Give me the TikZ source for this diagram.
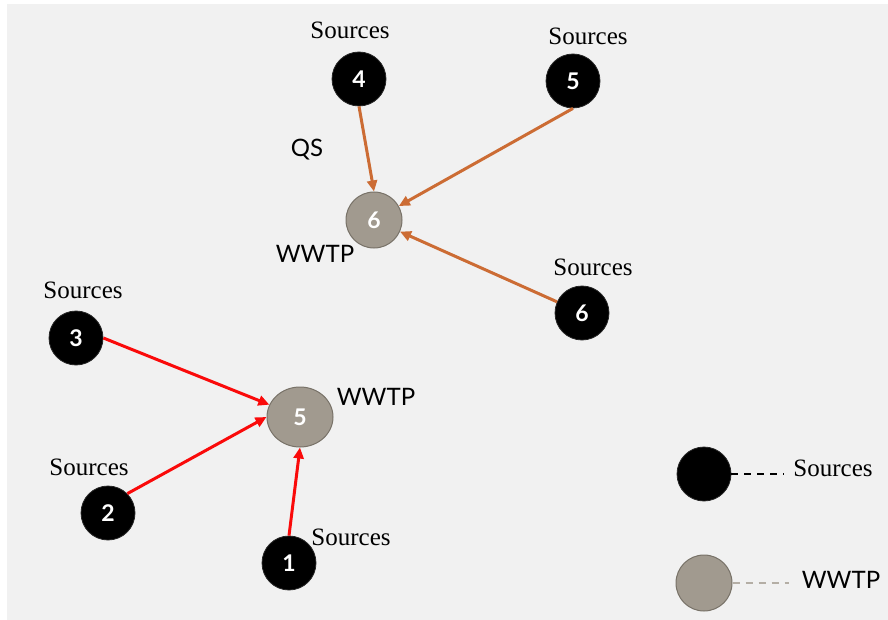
\documentclass[tikz,border=0pt]{standalone}
\usepackage{fontspec}
\setmainfont{Liberation Serif}
\newfontfamily\labelsans{Lato}
\usetikzlibrary{arrows.meta,shapes.geometric}
\definecolor{panel}{RGB}{241,241,241}
\definecolor{plantfill}{RGB}{161,154,143}
\definecolor{plantedge}{RGB}{120,114,104}
\definecolor{flowqs}{RGB}{204,108,52}
\definecolor{flowred}{RGB}{250,10,10}
\tikzset{
  source/.style={circle, fill=black, draw=black!85, line width=0.8pt,
    minimum size=54pt, inner sep=0pt, text=white,
    font=\labelsans\bfseries\fontsize{23}{23}\selectfont},
  plant/.style={circle, fill=plantfill, draw=plantedge, line width=1pt,
    minimum size=56pt, inner sep=0pt, text=white,
    font=\labelsans\bfseries\fontsize{23}{23}\selectfont},
  srclabel/.style={font=\fontsize{25}{25}\selectfont, inner sep=0pt},
  sanslabel/.style={font=\labelsans\fontsize{24}{24}\selectfont, inner sep=0pt},
  qsflow/.style={draw=flowqs, line width=3pt, -{Triangle[length=11pt,width=10pt]}},
  redflow/.style={draw=flowred, line width=3pt, -{Triangle[length=11pt,width=10pt]}},
}
\begin{document}
\begin{tikzpicture}[x=1pt,y=-1pt]
  \useasboundingbox (0,0) rectangle (888,620);
  \fill[white] (0,0) rectangle (888,620);
  \fill[panel] (7,4) rectangle (888,620);

  % upper group: QS sources feeding plant 6
  \node[source] (s4) at (359,79) {4};
  \node[source] (s5) at (573,81) {5};
  \node[source] (s6) at (582,313) {6};
  \node[plant] (w6) at (374,220) {6};
  \node[srclabel] (l4) at (350,30) {Sources};
  \node[srclabel] (l5) at (588,36) {Sources};
  \node[srclabel] (l6) at (593,267) {Sources};
  \node[sanslabel] (qs) at (307,150) {QS};
  \node[sanslabel] (lw6) at (315,254) {WWTP};

  \draw[qsflow] (s4.south) -- (w6.north);
  \draw[qsflow] (s5.south) -- (w6);
  \draw[qsflow] (s6) -- (w6);

  % lower group: sources feeding plant 5
  \node[source] (s3) at (76,338) {3};
  \node[source] (s2) at (108,513) {2};
  \node[source] (s1) at (289,563) {1};
  \node[plant, ellipse, minimum width=66pt, minimum height=60pt] (w5) at (300,417) {5};
  \node[srclabel] (l3) at (83,290) {Sources};
  \node[srclabel] (l2) at (89,467) {Sources};
  \node[srclabel] (l1) at (351,537) {Sources};
  \node[sanslabel] (lw5) at (376,397) {WWTP};

  \draw[redflow] (s3.east) -- (w5);
  \draw[redflow] (s2.north east) -- (w5.west);
  \draw[redflow] (s1.north) -- (w5.south);

  % legend
  \node[source] (ks) at (704,474) {};
  \node[plant] (kw) at (704,583) {};
  \node[srclabel] (kls) at (833,468) {Sources};
  \node[sanslabel] (klw) at (841,580) {WWTP};
  \coordinate (kse) at (784,474);
  \coordinate (kwe) at (789,583);
  \draw[black, line width=2pt, dash pattern=on 7pt off 6pt] (ks.east) -- (kse);
  \draw[plantfill!80, line width=2pt, dash pattern=on 7pt off 6pt] (kw.east) -- (kwe);
\end{tikzpicture}
\end{document}
